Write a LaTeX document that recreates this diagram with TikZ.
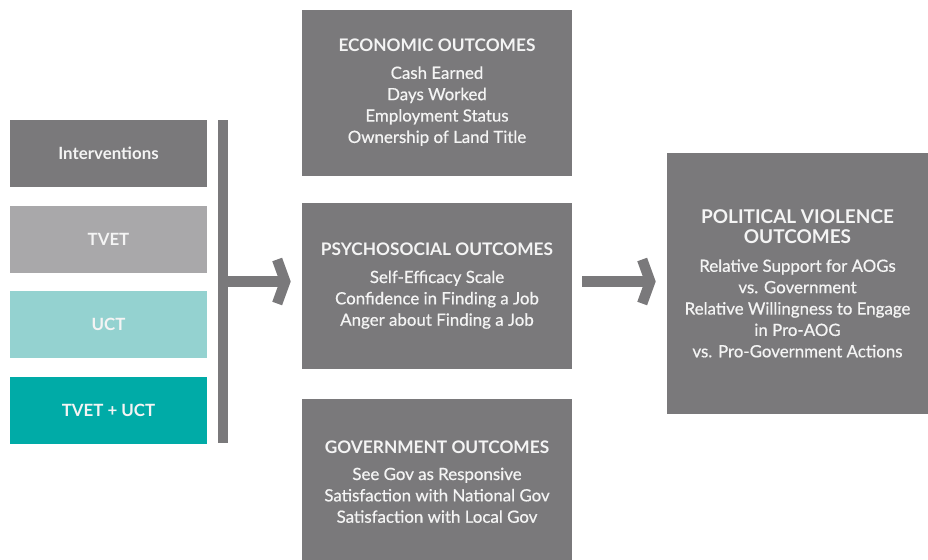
\documentclass[tikz,border=0pt]{standalone}
\usepackage{fontspec}
\setmainfont{Lato}
\newfontfamily\heavyfont{Lato}[FakeBold=0.6]
\usepackage{tikz}
\usetikzlibrary{positioning}
\usetikzlibrary{arrows.meta}
\definecolor{boxGray}{HTML}{7A797B}
\definecolor{tvetGray}{HTML}{A9A8AA}
\definecolor{uctTeal}{HTML}{94D2D0}
\definecolor{bothTeal}{HTML}{00ABA7}
\definecolor{textWhite}{HTML}{F4F4F4}
\tikzset{group-node/.style={fill=#1, text=textWhite, inner sep=0, minimum width=4.925cm, minimum height=1.675cm,
    font=\bfseries\fontsize{12}{14}\selectfont}}
\tikzset{outcome-node/.style={fill=boxGray, text=textWhite, inner sep=0, minimum width=6.75cm, minimum height=4.15cm,
    align=center, font=\heavyfont\fontsize{12}{15.2}\selectfont}}
\tikzset{bar-node/.style={fill=boxGray, inner sep=0, minimum width=0.25cm, minimum height=8.075cm}}
\tikzset{flow-line/.style={draw=boxGray, line width=0.26cm,
    -{Straight Barb[length=0.2cm, width=1.1cm, line cap=butt, line join=miter]}}}
\newcommand{\outtitle}[2][12.3]{{\normalfont\bfseries\fontsize{#1}{15.2}\selectfont #2}}

\begin{document}
\begin{tikzpicture}
    \useasboundingbox (0,0) rectangle (23.2,-14);

    % interventions column
    \node[group-node=boxGray] (interv) at (2.7125,-3.8375) {Interventions};
    \node[group-node=tvetGray, below=0.45cm of interv] (tvet) {TVET};
    \node[group-node=uctTeal, below=0.45cm of tvet] (uct) {UCT};
    \node[group-node=bothTeal, below=0.45cm of uct] (both) {TVET + UCT};
    \node[bar-node, right=0.25cm of interv.north east, anchor=north west] (bar) {};

    % outcomes
    \node[outcome-node] (econ) at (10.925,-2.3125) {\outtitle{ECONOMIC OUTCOMES}\\[4pt]
        Cash Earned\\Days Worked\\Employment Status\\Ownership of Land Title};
    \node[outcome-node, below=0.675cm of econ] (psych) {\outtitle{PSYCHOSOCIAL OUTCOMES}\\[4pt]
        Self-Efficacy Scale\\Confidence in Finding a Job\\Anger about Finding a Job};
    \node[outcome-node, below=0.725cm of psych] (gov) {\outtitle{GOVERNMENT OUTCOMES}\\[4pt]
        See Gov as Responsive\\Satisfaction with National Gov\\Satisfaction with Local Gov};
    \node[outcome-node, minimum width=6.525cm, minimum height=6.525cm] (pol) at (19.9375,-7.0875)
        {\outtitle[13.5]{POLITICAL VIOLENCE}\\[-1pt]\outtitle[13.5]{OUTCOMES}\\[5pt]
        Relative Support for AOGs\\vs. Government\\Relative Willingness to Engage\\in Pro-AOG\\vs. Pro-Government Actions};

    \draw[flow-line] (bar.east) -- ([xshift=-0.275cm]psych.west |- bar.east);
    \draw[flow-line] ([xshift=0.25cm]psych.east |- bar.east) -- ([xshift=-0.275cm]pol.west |- bar.east);
\end{tikzpicture}
\end{document}
